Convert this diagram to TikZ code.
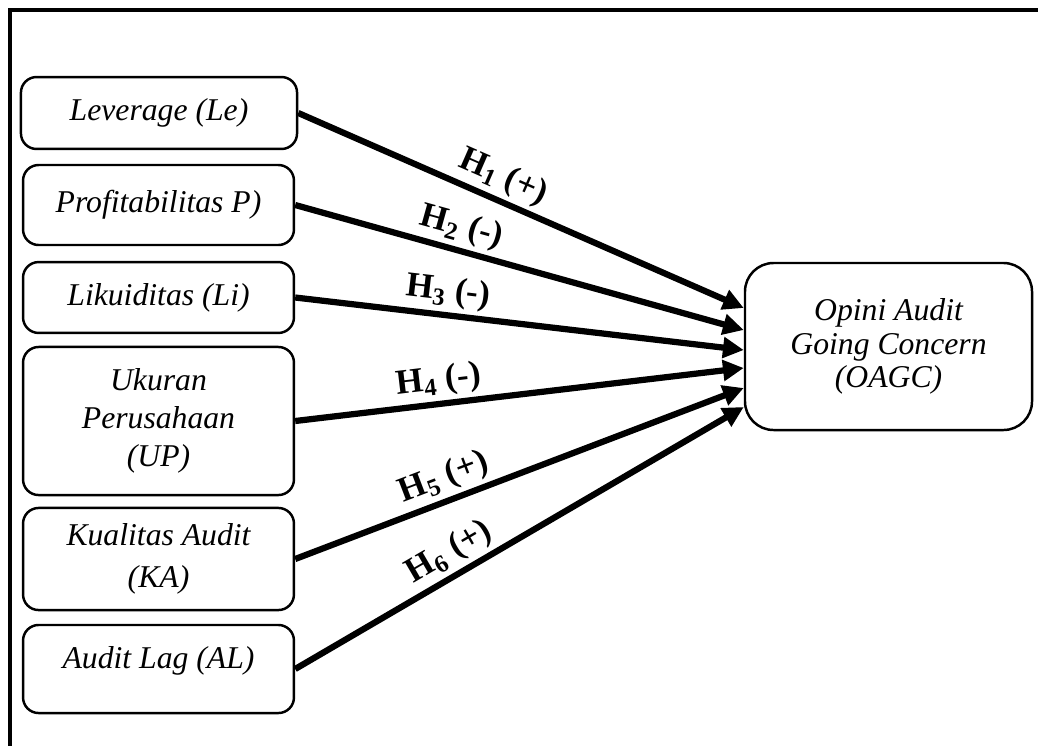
\documentclass[tikz,border=0pt]{standalone}
\usepackage{fontspec}
\setmainfont{Liberation Serif}
\usetikzlibrary{arrows.meta,calc}
\begin{document}
\begin{tikzpicture}[x=0.385pt,y=-0.385pt,
  varbox/.style={draw,line width=0.95pt,rounded corners=6pt,align=center,
    minimum width=104.3pt,inner sep=2pt,font=\itshape\fontsize{12.2}{14.5}\selectfont},
  depbox/.style={draw,line width=0.95pt,rounded corners=11pt,align=center,
    minimum width=110.5pt,minimum height=64.3pt,font=\itshape\fontsize{12.2}{12.8}\selectfont},
  arr/.style={line width=2.4pt,-{Triangle[length=8pt,width=7.8pt]}},
  hlab/.style={font=\bfseries\fontsize{13.5}{13.5}\selectfont,sloped,above,inner sep=1.5pt}]
\useasboundingbox (0,0) rectangle (1038,745);
% frame
\draw[line width=1.4pt] (10,770) -- (10,10) -- (1060,10);
% independent variables
\node[varbox,minimum width=106.3pt,minimum height=27.7pt] (le) at (159,113) {Leverage (Le)};
\node[varbox,minimum height=30.8pt] (pr) at (158.5,205) {Profitabilitas P)};
\node[varbox,minimum height=27.3pt] (li) at (158.5,297.5) {Likuiditas (Li)};
\node[varbox,minimum height=57pt] (up) at (158.5,421) {Ukuran\\Perusahaan\\(UP)};
\node[varbox,minimum height=39.3pt,font=\itshape\fontsize{12.2}{16}\selectfont] (ka) at (158.5,559) {Kualitas Audit\\(KA)};
\node[varbox,minimum height=33.9pt,text depth=9pt] (al) at (158.5,669) {Audit Lag (AL)};
% dependent variable
\node[depbox] (oagc) at (888.5,346.5) {Opini Audit\\Going Concern\\(OAGC)};
% arrows
\draw[arr] (le.east) -- node[hlab,pos=0.44] {H\textsubscript{1} (+)} ($(oagc.west)+(0,-38.5)$);
\draw[arr] (pr.east) -- node[hlab,pos=0.357] {H\textsubscript{2} (-)} ($(oagc.west)+(0,-16.5)$);
\draw[arr] (li.east) -- node[hlab,pos=0.335] {H\textsubscript{3} (-)} ($(oagc.west)+(0,3.5)$);
\draw[arr] (up.east) -- node[hlab,pos=0.326] {H\textsubscript{4} (-)} ($(oagc.west)+(0,21.5)$);
\draw[arr] (ka.east) -- node[hlab,pos=0.35] {H\textsubscript{5} (+)} ($(oagc.west)+(0,41.5)$);
\draw[arr] (al.east) -- node[hlab,pos=0.37] {H\textsubscript{6} (+)} ($(oagc.west)+(0,60.5)$);
\end{tikzpicture}
\end{document}
